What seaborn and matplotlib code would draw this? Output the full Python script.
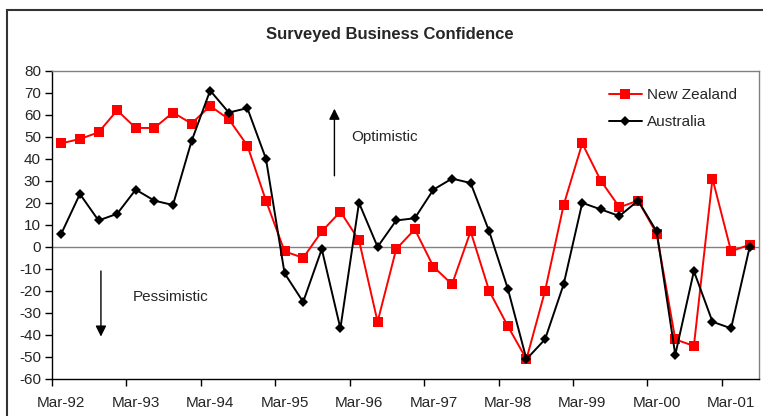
import numpy as np
import pandas as pd
import matplotlib
matplotlib.use("Agg")
import matplotlib.pyplot as plt
import seaborn as sns
from matplotlib.patches import Rectangle

# quarterly survey, Mar-92 .. Jun-01
quarters = pd.period_range("1992Q1", "2001Q2", freq="Q")
quarter_labels = [("Mar-%02d" % (q.year % 100)) if q.quarter == 1 else "" for q in quarters]

new_zealand = [47, 49, 52, 62, 54, 54, 61, 56, 64, 58, 46, 21,
               -2, -5, 7, 16, 3, -34, -1, 8, -9, -17, 7, -20,
               -36, -51, -20, 19, 47, 30, 18, 21, 6, -42, -45, 31,
               -2, 1]
australia = [6, 24, 12, 15, 26, 21, 19, 48, 71, 61, 63, 40,
             -12, -25, -1, -37, 20, 0, 12, 13, 26, 31, 29, 7,
             -19, -51, -42, -17, 20, 17, 14, 21, 7, -49, -11, -34,
             -37, 0]

df = pd.DataFrame({
    "pos": list(range(len(quarters))) * 2,
    "value": new_zealand + australia,
    "country": ["New Zealand"] * len(quarters) + ["Australia"] * len(quarters),
})

sns.set_style("white")
plt.rcParams["font.family"] = ["Liberation Sans", "DejaVu Sans"]
plt.rcParams["axes.unicode_minus"] = False

fig = plt.figure(figsize=(7.63, 4.16), dpi=100)
ax = fig.add_axes([52 / 763, 1 - 379 / 416, (759 - 52) / 763, (379 - 70.7) / 416])

sns.lineplot(data=df, x="pos", y="value", hue="country", style="country",
             palette={"New Zealand": "#ff0000", "Australia": "black"},
             markers={"New Zealand": "s", "Australia": "D"},
             dashes=False, linewidth=1.4, markeredgewidth=0, ax=ax)
for line in ax.lines:
    if line.get_marker() == "s":
        line.set_markersize(7)
    elif line.get_marker() == "D":
        line.set_markersize(5.5)

ax.axhline(0, color="#808080", lw=1, zorder=0)

ax.set_xlim(-0.5, len(quarters) - 0.5)
ax.set_ylim(-60, 80)
ax.set_yticks(np.arange(-60, 81, 10))
ax.set_xticks(np.arange(-0.5, len(quarters), 4))
ax.set_xticklabels([])
label_pos = [i for i, l in enumerate(quarter_labels) if l]
ax.set_xticks(label_pos, minor=True)
ax.set_xticklabels([quarter_labels[i] for i in label_pos], minor=True)
ax.tick_params(axis="x", which="major", direction="out", length=5, width=1, color="black", bottom=True)
ax.tick_params(axis="x", which="minor", length=0, pad=12, labelsize=11)
ax.tick_params(axis="y", direction="out", length=5, width=1, color="black", left=True, labelsize=11, pad=3)
ax.set_xlabel("")
ax.set_ylabel("")

for side in ["left", "bottom"]:
    ax.spines[side].set_color("black")
    ax.spines[side].set_linewidth(1)
for side in ["top", "right"]:
    ax.spines[side].set_color("#808080")
    ax.spines[side].set_linewidth(1)

handles, labels = ax.get_legend_handles_labels()
ax.legend(handles, labels, loc="upper right", bbox_to_anchor=(0.988, 0.988), frameon=False,
          fontsize=11, handlelength=2.2, handletextpad=0.3, labelspacing=0.85)

ax.annotate("", xy=(14.68, 64), xytext=(14.68, 31),
            arrowprops=dict(arrowstyle="-|>", color="black", lw=1, mutation_scale=16))
ax.text(15.6, 50, "Optimistic", fontsize=11, va="center", ha="left")
ax.annotate("", xy=(2.13, -42), xytext=(2.13, -9.7),
            arrowprops=dict(arrowstyle="-|>", color="black", lw=1, mutation_scale=16))
ax.text(3.85, -22.7, "Pessimistic", fontsize=11, va="center", ha="left")

fig.text(390 / 763, 1 - 35 / 416, "Surveyed Business Confidence", fontsize=12,
         fontweight="bold", ha="center", va="center")

fig.patches.append(Rectangle((7 / 763, -0.1), 1.2, 1 - 10 / 416 + 0.1, transform=fig.transFigure,
                             fill=False, edgecolor="#333333", lw=1.5))

fig.savefig("out.png", dpi=100)
